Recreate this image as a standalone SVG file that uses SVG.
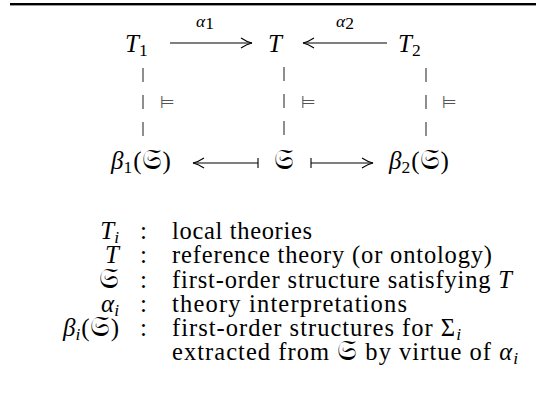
<svg xmlns="http://www.w3.org/2000/svg" width="536" height="409" viewBox="0 0 536 409">
<style>
.m{font-family:"Liberation Serif","DejaVu Serif",serif;font-style:italic;font-size:25px;fill:#000}
.r{font-family:"Liberation Serif","DejaVu Serif",serif;font-style:normal;font-size:25px;fill:#000}
.t{font-family:"Liberation Serif","DejaVu Serif",serif;font-style:normal;font-size:24.5px;fill:#000}
.s{font-family:"Liberation Serif",serif;font-style:normal;font-size:17.5px}
.si{font-family:"Liberation Serif",serif;font-style:italic;font-size:17.5px}
.fr{font-family:"DejaVu Serif","DejaVu Sans","Noto Sans",serif;font-style:normal;font-size:28px}
.ln{stroke:#000;stroke-width:1.1;fill:none}
.dash{stroke:#444;stroke-width:1.2;stroke-dasharray:14 13;fill:none}
.mod{font-family:"DejaVu Sans",sans-serif;font-size:17px;fill:#555}
</style>
<defs>
<marker id="ah" markerWidth="14" markerHeight="12" refX="12" refY="6" orient="auto" markerUnits="userSpaceOnUse">
<path d="M1,1 Q7,5 12,6 Q7,7 1,11" fill="none" stroke="#000" stroke-width="1.1"/>
</marker>
</defs>
<rect x="10" y="3" width="526" height="2.4" fill="#000"/>
<g id="connectors">
<line class="ln" x1="170" y1="43" x2="252" y2="43" marker-end="url(#ah)"/>
<line class="ln" x1="387" y1="43" x2="303" y2="43" marker-end="url(#ah)"/>
<line class="ln" x1="258" y1="163" x2="193" y2="163" marker-end="url(#ah)"/>
<line class="ln" x1="258" y1="158" x2="258" y2="168"/>
<line class="ln" x1="311" y1="163" x2="373" y2="163" marker-end="url(#ah)"/>
<line class="ln" x1="311" y1="158" x2="311" y2="168"/>
<line class="dash" x1="143" y1="68" x2="143" y2="136"/>
<line class="dash" x1="284" y1="67" x2="284" y2="137"/>
<line class="dash" x1="426" y1="68" x2="426" y2="136"/>
<text class="mod" x="160" y="108">⊨</text>
<text class="mod" x="301" y="108">⊨</text>
<text class="mod" x="442" y="108">⊨</text>
<text class="si" x="196" y="27">α<tspan class="s" font-size="12.5" dy="2">1</tspan></text>
<text class="si" x="336" y="27">α<tspan class="s" font-size="12.5" dy="2">2</tspan></text>
</g>
<g id="T1"><text class="m" x="125" y="52">T<tspan class="s" dy="4">1</tspan></text></g>
<g id="T"><text class="m" x="268" y="52">T</text></g>
<g id="T2"><text class="m" x="398" y="52">T<tspan class="s" dy="4">2</tspan></text></g>
<g id="beta1"><text class="m" x="111" y="169">β<tspan class="s" dy="4">1</tspan><tspan class="r" dy="-4" dx="1">(</tspan><tspan class="fr">𝔖</tspan><tspan class="r" dx="1">)</tspan></text></g>
<g id="S"><text class="fr" x="274" y="169">𝔖</text></g>
<g id="beta2"><text class="m" x="389" y="169">β<tspan class="s" dy="4">2</tspan><tspan class="r" dy="-4" dx="1">(</tspan><tspan class="fr">𝔖</tspan><tspan class="r" dx="1">)</tspan></text></g>
<g id="legend">
<text class="m" x="119" y="239" text-anchor="end">T<tspan class="si" dy="4">i</tspan></text>
<text class="m" x="119" y="263" text-anchor="end">T</text>
<text class="fr" x="119" y="288" text-anchor="end">𝔖</text>
<text class="m" x="119" y="312" text-anchor="end">α<tspan class="si" dy="4">i</tspan></text>
<text class="m" x="119" y="336" text-anchor="end">β<tspan class="si" dy="4">i</tspan><tspan class="r" dy="-4" dx="1">(</tspan><tspan class="fr">𝔖</tspan><tspan class="r" dx="1">)</tspan></text>
<text class="r" x="140" y="239">:</text>
<text class="r" x="140" y="263">:</text>
<text class="r" x="140" y="288">:</text>
<text class="r" x="140" y="312">:</text>
<text class="r" x="140" y="336">:</text>
<text class="t" x="172" y="239" textLength="140" lengthAdjust="spacing">local theories</text>
<text class="t" x="172" y="263" textLength="320" lengthAdjust="spacing">reference theory (or ontology)</text>
<text class="t" x="172" y="288" textLength="340" lengthAdjust="spacing">first-order structure satisfying <tspan font-style="italic">T</tspan></text>
<text class="t" x="172" y="312" textLength="235" lengthAdjust="spacing">theory interpretations</text>
<text class="t" x="172" y="336" textLength="289" lengthAdjust="spacing">first-order structures for Σ<tspan class="si" dy="4">i</tspan></text>
<text class="t" x="172" y="360" textLength="346" lengthAdjust="spacing">extracted from <tspan class="fr">𝔖</tspan> by virtue of <tspan font-style="italic">α</tspan><tspan class="si" dy="4">i</tspan></text>
</g>
</svg>
